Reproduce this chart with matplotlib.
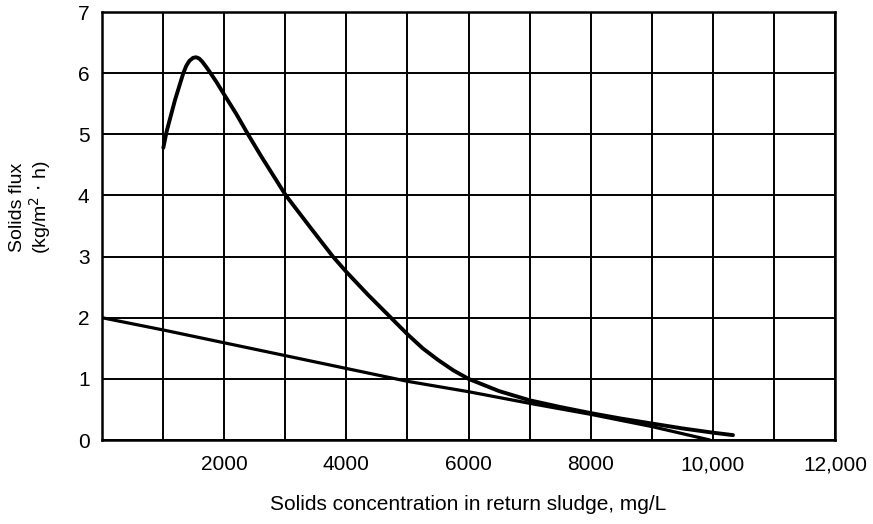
import matplotlib as mpl
mpl.use('Agg')
from matplotlib import pyplot as plt
import numpy as np

# gravity flux curve
conc_curve = np.array([1004, 1059, 1195, 1331, 1380, 1430, 1490, 1540, 1590, 1640,
                       1700, 1757, 1877, 2000, 2200, 2390, 2600, 3010, 3400, 3780,
                       4000, 4350, 4710, 5000, 5250, 5500, 5750, 6000, 6500, 7000,
                       7500, 8000, 8500, 9000, 9500, 10000, 10330])
flux_curve = np.array([4.78, 5.05, 5.56, 6.0, 6.12, 6.2, 6.25, 6.26, 6.24, 6.19,
                       6.11, 6.03, 5.85, 5.65, 5.33, 5.0, 4.65, 4.0, 3.49, 3.0,
                       2.75, 2.38, 2.02, 1.73, 1.5, 1.31, 1.14, 1.0, 0.8, 0.65,
                       0.54, 0.44, 0.35, 0.27, 0.19, 0.12, 0.08])

# underflow line
conc_line = np.array([0, 1000, 2000, 3000, 4000, 5000, 6000, 7000, 8000, 9000, 9950])
flux_line = np.array([2.0, 1.8, 1.59, 1.38, 1.17, 0.96, 0.79, 0.6, 0.42, 0.22, 0.0])

xticks = [2000, 4000, 6000, 8000, 10000, 12000]
xticklabels = ['2000', '4000', '6000', '8000', '10,000', '12,000']
yticks = [0, 1, 2, 3, 4, 5, 6, 7]

plt.rcParams['font.family'] = ['Liberation Sans', 'DejaVu Sans']

fig = plt.figure(figsize=(8.73, 5.24), dpi=100, facecolor='w')
ax = fig.add_axes([102/873, 84/524, 733/873, 428/524])

ax.plot(conc_curve, flux_curve, '-', color='black', lw=2.8,
        solid_capstyle='round', solid_joinstyle='round')
ax.plot(conc_line, flux_line, '-', color='black', lw=2.3,
        solid_capstyle='round', solid_joinstyle='round')

ax.set_xlim(0, 12000)
ax.set_ylim(0, 7)
ax.set_xticks(xticks)
ax.set_xticklabels(xticklabels)
ax.set_yticks(yticks)
ax.set_xticks(np.arange(1000, 12000, 1000), minor=True)
ax.grid(visible=True, which='both', axis='both', color='black', lw=1.4)
ax.tick_params(which='both', length=0, labelsize=15)
ax.tick_params(axis='x', pad=11)
ax.tick_params(axis='y', pad=9)
for s in ax.spines.values():
    s.set_linewidth(1.8)

ax.set_xlabel('Solids concentration in return sludge, mg/L', fontsize=15, labelpad=15)
fig.text(31/873, 0.605, 'Solids flux\n(kg/m$^2$ $\\cdot$ h)', rotation=90,
         ha='center', va='center', fontsize=14, linespacing=1.05)

plt.savefig('out.png', dpi=100)
